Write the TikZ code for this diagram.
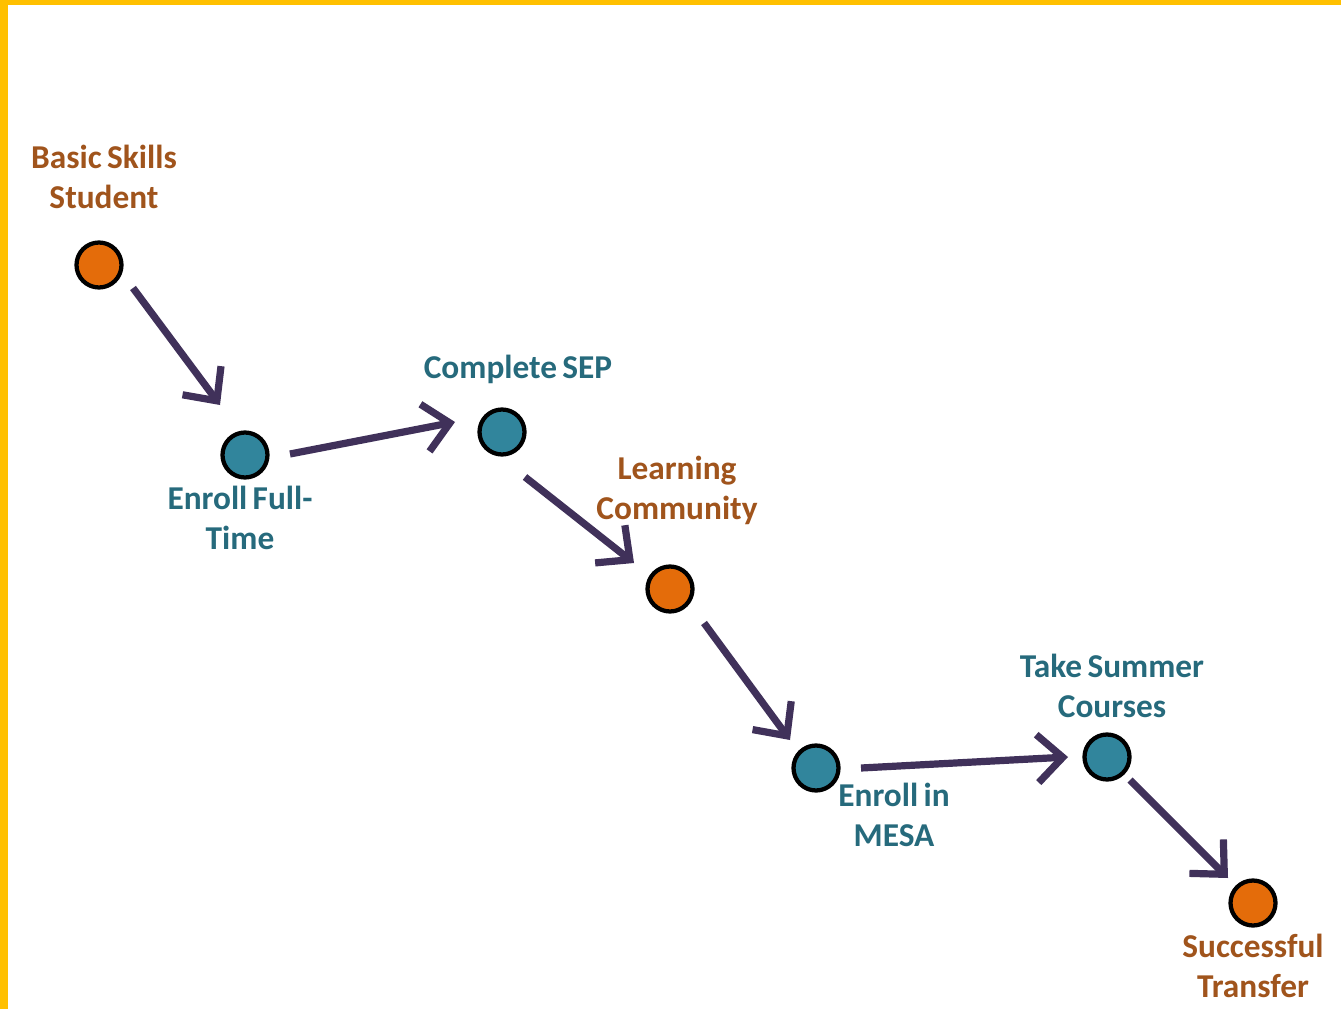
\documentclass[tikz,border=0pt]{standalone}
\usepackage{fontspec}
\setmainfont{Carlito}
\usetikzlibrary{arrows.meta, calc}
\definecolor{borderyellow}{RGB}{255,192,0}
\definecolor{dotorange}{RGB}{228,108,10}
\definecolor{dotteal}{RGB}{49,133,156}
\definecolor{txtorange}{RGB}{160,84,28}
\definecolor{txtteal}{RGB}{38,106,124}
\definecolor{arrowpurple}{RGB}{64,49,90}
\newcommand{\stepfont}{\fontsize{25}{30}\selectfont\bfseries\spaceskip=0.16em\relax}
\tikzset{
  dot/.style={circle, draw=black, line width=3.2pt, minimum size=33.75pt, inner sep=0pt},
  dotorg/.style={dot, fill=dotorange},
  dotblue/.style={dot, fill=dotteal},
  lbl/.style={font=\stepfont, align=center, inner sep=0pt},
  lblorg/.style={lbl, text=txtorange},
  lblblue/.style={lbl, text=txtteal},
  arrow/.style={line width=5.4pt, draw=arrowpurple, -{Straight Barb[length=19pt, width=36pt]}}
}

\begin{document}
\begin{tikzpicture}[x=0.75pt, y=-0.75pt]

% frame
\useasboundingbox (0,0) rectangle (1341,1009);
\fill[white] (0,0) rectangle (1341,1009);
\fill[borderyellow] (0,0) rectangle (1341,5);
\fill[borderyellow] (0,0) rectangle (8,1009);

% steps
\node (basic) [dotorg] at (99,265) {};
\node (fulltime) [dotblue] at (245,455) {};
\node (sep) [dotblue] at (502,432) {};
\node (learning) [dotorg] at (670,589) {};
\node (mesa) [dotblue] at (816,768) {};
\node (summer) [dotblue] at (1107,757) {};
\node (transfer) [dotorg] at (1253,903) {};

% labels
\node (basiclbl) [lblorg] at (104,177) {Basic Skills\\Student};
\node (fulltimelbl) [lblblue] at (240,518) {Enroll Full-\\Time};
\node (seplbl) [lblblue] at (518,369) {Complete SEP};
\node (learninglbl) [lblorg] at (677,490) {Learning\\Community};
\node (mesalbl) [lblblue] at (894,815) {Enroll in\\MESA};
\node (summerlbl) [lblblue] at (1112,686) {Take Summer\\Courses};
\node (transferlbl) [lblorg] at (1253,966) {Successful\\Transfer};

% arrows
\draw [arrow] ($(basic)+(34,23)$) -- ($(fulltime)+(-25,-50)$);
\draw [arrow] ($(fulltime)+(45,-1)$) -- ($(sep)+(-47,-10)$);
\draw [arrow] ($(sep)+(23,45)$) -- ($(learning)+(-36,-26)$);
\draw [arrow] ($(learning)+(34,34)$) -- ($(mesa)+(-26,-28)$);
\draw [arrow] ($(mesa)+(45,0)$) -- ($(summer)+(-39,0)$);
\draw [arrow] ($(summer)+(23,23)$) -- ($(transfer)+(-25,-25)$);

\end{tikzpicture}
\end{document}
